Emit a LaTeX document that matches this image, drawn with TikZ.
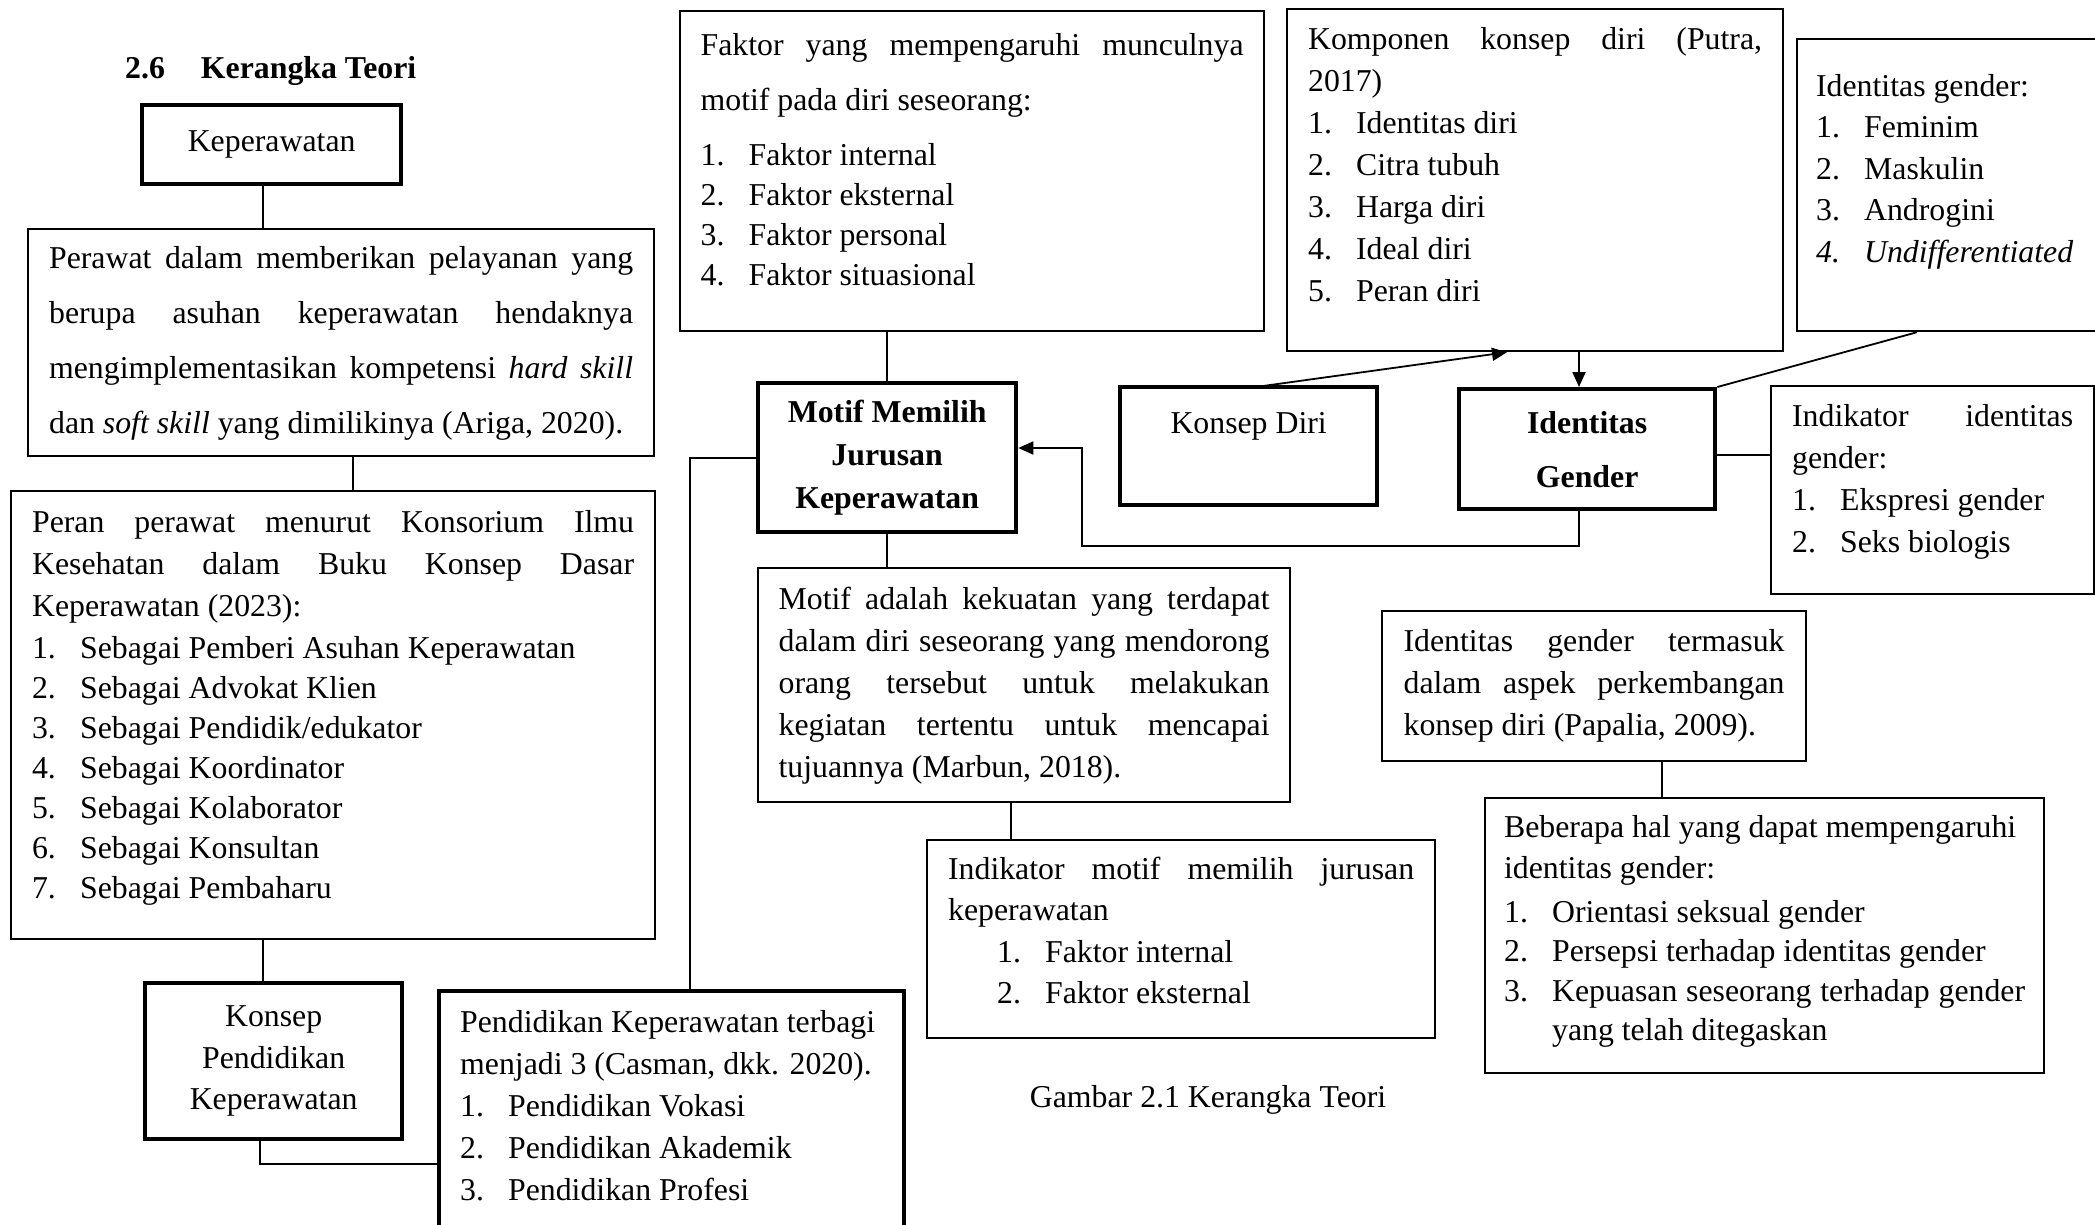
\documentclass[tikz,border=0pt]{standalone}
\usepackage{fontspec}
\setmainfont{Liberation Serif}
\usetikzlibrary{arrows.meta,calc}
\newcommand\bxt[4]{\parbox[c][#2pt][t]{#1pt}{\hyphenpenalty=10000\exhyphenpenalty=10000\vspace*{#3pt}#4}}
\newcommand\itm[2]{\par\noindent\hangindent=48pt\hangafter=1\makebox[48pt][l]{#1}#2}
\newcommand\fs[1]{\fontsize{31.8}{#1}\selectfont}
\tikzset{
  thinbox/.style={draw, line width=2.2pt, inner ysep=0pt, anchor=north west},
  thickpb/.style={draw, line width=4.3pt, inner ysep=0pt, inner xsep=0pt, anchor=north west},
  thickbox/.style={draw, line width=4.3pt, inner sep=0pt, anchor=north west, align=center},
  conn/.style={line width=1.8pt},
  arr/.style={line width=1.8pt, -{Triangle[length=15pt,width=13pt]}},
}
\begin{document}
\begin{tikzpicture}[x=1pt,y=-1pt, every node/.style={font=\fs{40}}]
\useasboundingbox (0,0) rectangle (2095,1224);
\fill[white] (0,0) rectangle (2095,1224);

% title
\node[anchor=base west, inner sep=0pt, font=\fs{38}\bfseries] (title) at (125,78) {2.6\hspace{36pt}Kerangka Teori};

% left column
\node[thickbox, minimum width=259pt, minimum height=79pt] (kep) at (140,103) {Keperawatan};

\node[thinbox, inner xsep=21pt] (perawat) at (27,228) {\bxt{584}{227}{17}{\fs{55}Perawat dalam memberikan pelayanan yang\linebreak berupa asuhan keperawatan hendaknya\linebreak mengimplementasikan kompetensi \textit{hard skill}\linebreak dan \textit{soft skill} yang dimilikinya (Ariga, 2020).}};

\node[thinbox, inner xsep=21pt] (peran) at (10,490) {\bxt{602}{448}{19}{\fs{42}Peran perawat menurut Konsorium Ilmu\linebreak Kesehatan dalam Buku Konsep Dasar\linebreak Keperawatan (2023):\par\fs{40}\vspace{2pt}%
\itm{1.}{Sebagai Pemberi Asuhan Keperawatan}%
\itm{2.}{Sebagai Advokat Klien}%
\itm{3.}{Sebagai Pendidik/edukator}%
\itm{4.}{Sebagai Koordinator}%
\itm{5.}{Sebagai Kolaborator}%
\itm{6.}{Sebagai Konsultan}%
\itm{7.}{Sebagai Pembaharu}}};

\node[thickbox, minimum width=257pt, minimum height=156pt, font=\fs{41.5}] (kpend) at (143,981) {Konsep\\Pendidikan\\Keperawatan};

\node[thickpb, inner xsep=21pt] (pend) at (437,989) {\bxt{423}{251}{19}{\fs{42}Pendidikan Keperawatan terbagi\\menjadi 3 (Casman, dkk. 2020).%
\itm{1.}{Pendidikan Vokasi}%
\itm{2.}{Pendidikan Akademik}%
\itm{3.}{Pendidikan Profesi}}};

% middle column
\node[thinbox, inner xsep=20.5pt] (faktor) at (679,10) {\bxt{543}{320}{22}{\fs{55}Faktor yang mempengaruhi munculnya\linebreak motif pada diri seseorang:\par\fs{40}\vspace{15.6pt}%
\itm{1.}{Faktor internal}%
\itm{2.}{Faktor eksternal}%
\itm{3.}{Faktor personal}%
\itm{4.}{Faktor situasional}}};

\node[thickbox, minimum width=258pt, minimum height=149pt, font=\fs{43}\bfseries] (motif) at (756,381) {Motif Memilih\\Jurusan\\Keperawatan};

\node[thinbox, inner xsep=20.5pt] (motifdef) at (757,567) {\bxt{491}{234}{19}{\fs{42}Motif adalah kekuatan yang terdapat\linebreak dalam diri seseorang yang mendorong\linebreak orang tersebut untuk melakukan\linebreak kegiatan tertentu untuk mencapai\linebreak tujuannya (Marbun, 2018).}};

\node[thinbox, inner xsep=21pt] (indmotif) at (926,839) {\bxt{466}{198}{17}{\fs{41.3}Indikator motif memilih jurusan\linebreak keperawatan\par\leftskip=49pt%
\itm{1.}{Faktor internal}%
\itm{2.}{Faktor eksternal}}};

\node[anchor=base, inner sep=0pt] (caption) at (1208,1107) {Gambar 2.1 Kerangka Teori};

% right part
\node[thinbox, inner xsep=21pt] (komp) at (1286,8) {\bxt{454}{342}{18}{\fs{42}Komponen konsep diri (Putra,\linebreak 2017)%
\itm{1.}{Identitas diri}%
\itm{2.}{Citra tubuh}%
\itm{3.}{Harga diri}%
\itm{4.}{Ideal diri}%
\itm{5.}{Peran diri}}};

\node[thickpb] (kdiri) at (1118,385) {\bxt{257}{118}{25}{\centering Konsep Diri}};

\node[thickbox, minimum width=256pt, minimum height=120pt, font=\fs{54}\bfseries] (idg) at (1457,387) {Identitas\\Gender};

\node[thinbox, inner xsep=19pt] (idgl) at (1796,38) {\bxt{286}{292}{35}{\fs{41.5}Identitas gender:%
\itm{1.}{Feminim}%
\itm{2.}{Maskulin}%
\itm{3.}{Androgini}%
\itm{\textit{4.}}{\textit{Undifferentiated}}}};

\node[thinbox, inner xsep=21pt] (indid) at (1770,385) {\bxt{281}{208}{18}{\fs{42}Indikator identitas\linebreak gender:%
\itm{1.}{Ekspresi gender}%
\itm{2.}{Seks biologis}}};

\node[thinbox, inner xsep=21.5pt] (idterm) at (1381,610) {\bxt{381}{150}{18}{\fs{42}Identitas gender termasuk\linebreak dalam aspek perkembangan\linebreak konsep diri (Papalia, 2009).}};

\node[thinbox, inner xsep=19pt] (bebe) at (1484,797) {\bxt{521}{275}{17}{\fs{41}Beberapa hal yang dapat mempengaruhi\\identitas gender:\par\fs{39.5}\vspace{4.5pt}%
\itm{1.}{Orientasi seksual gender}%
\itm{2.}{Persepsi terhadap identitas gender}%
\itm{3.}{Kepuasan seseorang terhadap gender yang telah ditegaskan}}};

% connectors
\coordinate (xa) at (263,0);
\coordinate (xb) at (353,0);
\coordinate (xd) at (260,1164);
\coordinate (xe) at (690,0);
\coordinate (xi) at (1011,0);
\coordinate (xl) at (1507,0);
\coordinate (xn) at (1579,0);
\coordinate (xo) at (1917,0);
\coordinate (yn) at (0,455);
\coordinate (k1) at (1082,546);
\coordinate (k2) at (1082,448);
\coordinate (xq) at (1662,0);

\draw[conn] (xa |- kep.south) -- (xa |- perawat.north);
\draw[conn] (xb |- perawat.south) -- (xb |- peran.north);
\draw[conn] (xa |- peran.south) -- (xa |- kpend.north);
\draw[conn] (xd |- kpend.south) -- (xd) -- (xd -| pend.west);
\draw[conn] (xe |- pend.north) |- (motif.west);
\draw[conn] (motif.north |- faktor.south) -- (motif.north);
\draw[conn] (motif.south) -- (motif.south |- motifdef.north);
\draw[conn] (xi |- motifdef.south) -- (xi |- indmotif.north);
\draw[arr] ([yshift=-3pt]kdiri.north) -- (xl |- komp.south);
\draw[arr] (xn |- komp.south) -- (xn |- idg.north);
\draw[conn] (xo |- idgl.south) -- (idg.north east);
\draw[conn] (yn -| idg.east) -- (yn -| indid.west);
\draw[arr] (xn |- idg.south) |- (k1) -- (k2) -- (k2 -| motif.east);
\draw[conn] (xq |- idterm.south) -- (xq |- bebe.north);
\end{tikzpicture}
\end{document}
